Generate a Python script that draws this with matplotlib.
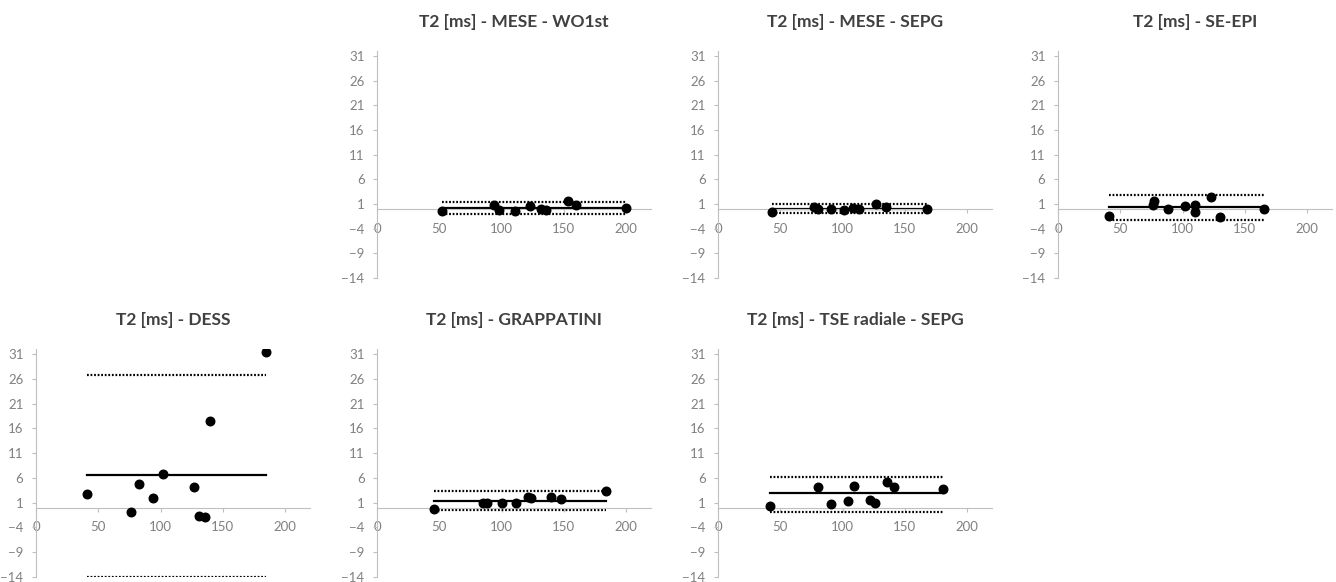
import matplotlib.pyplot as plt

# ---------------------------------------------------------
# Bland-Altman data
# ---------------------------------------------------------
titles = [
    "T2 [ms] - MESE - WO1st",
    "T2 [ms] - MESE - SEPG",
    "T2 [ms] - SE-EPI",
    "T2 [ms] - DESS",
    "T2 [ms] - GRAPPATINI",
    "T2 [ms] - TSE radiale - SEPG",
]

wo1st_x = [52, 94, 98, 111, 123, 132, 136, 153, 160, 200]
wo1st_y = [-0.4, 0.7, -0.2, -0.5, 0.5, 0.0, -0.2, 1.6, 0.7, 0.1]

sepg_x = [43, 77, 80, 91, 101, 108, 113, 127, 135, 168]
sepg_y = [-0.7, 0.3, 0.0, 0.0, -0.3, 0.2, 0.0, 1.0, 0.3, -0.1]

epi_x = [41, 76, 77, 88, 102, 110, 110, 123, 130, 165]
epi_y = [-1.35, 0.8, 1.6, -0.1, 0.6, 0.7, -0.7, 2.5, -1.6, -0.1]

dess_x = [41, 76, 83, 94, 102, 127, 131, 136, 140, 185]
dess_y = [2.7, -0.9, 4.7, 2.0, 6.8, 4.1, -1.6, -1.8, 17.4, 31.4]

grap_x = [46, 85, 88, 100, 112, 121, 124, 140, 148, 184]
grap_y = [-0.3, 0.9, 0.9, 0.9, 0.9, 2.1, 2.0, 2.1, 1.75, 3.4]

tse_x = [42, 80, 91, 104, 109, 122, 126, 136, 141, 181]
tse_y = [0.3, 4.25, 0.75, 1.35, 4.4, 1.5, 1.0, 5.1, 4.25, 3.85]

xs = [wo1st_x, sepg_x, epi_x, dess_x, grap_x, tse_x]
ys = [wo1st_y, sepg_y, epi_y, dess_y, grap_y, tse_y]

# bias and limits of agreement
bias = [0.15, 0.07, 0.35, 6.6, 1.4, 2.85]
upper = [1.45, 0.9, 2.85, 26.8, 3.4, 6.2]
lower = [-1.05, -0.75, -2.2, -13.9, -0.5, -0.95]

yticks = [-14, -9, -4, 1, 6, 11, 16, 21, 26, 31]
xticks = [0, 50, 100, 150, 200]

# panel slots: (row, col)
slots = [(0, 1), (0, 2), (0, 3), (1, 0), (1, 1), (1, 2)]

W, H = 1336, 582
col_left = [36, 377, 718, 1058]
row_top = [51, 349]
row_bot = [278, 577]
ax_w = 274

grey = "#808080"
axis_col = "#bfbfbf"
font = ["Lato", "DejaVu Sans"]

fig = plt.figure(figsize=(W / 100, H / 100), dpi=100)

for i, (r, c) in enumerate(slots):
    left = col_left[c] / W
    bottom = 1 - row_bot[r] / H
    height = (row_bot[r] - row_top[r]) / H
    ax = fig.add_axes([left, bottom, ax_w / W, height])

    x = xs[i]
    y = ys[i]
    x0, x1 = min(x), max(x)

    ax.plot([x0, x1], [bias[i], bias[i]], color="black", lw=1.6, zorder=2)
    ax.plot([x0, x1], [upper[i], upper[i]], color="black", lw=1.6,
            linestyle=(0, (0.8, 0.8)), zorder=2)
    ax.plot([x0, x1], [lower[i], lower[i]], color="black", lw=1.6,
            linestyle=(0, (0.8, 0.8)), zorder=2)
    ax.scatter(x, y, s=38, color="black", zorder=3)

    ax.set_xlim(0, 220)
    ax.set_ylim(-14, 32)
    ax.set_yticks(yticks)
    ax.set_xticks(xticks)

    ax.spines["top"].set_visible(False)
    ax.spines["right"].set_visible(False)
    ax.spines["bottom"].set_position(("data", 0))
    ax.spines["left"].set_color(axis_col)
    ax.spines["bottom"].set_color(axis_col)
    ax.tick_params(axis="both", colors=axis_col, labelcolor=grey,
                   labelsize=9.5, length=3, width=0.8)
    ax.tick_params(axis="x", pad=7)
    ax.tick_params(axis="y", pad=6)
    ax.patch.set_alpha(0)

    ax.set_title(titles[i], fontsize=12.5, fontweight="bold", color="#404040",
                 family=font, pad=17)

    for lab in ax.get_xticklabels() + ax.get_yticklabels():
        lab.set_family(font)

fig.savefig("out.png", dpi=100, facecolor="white")
